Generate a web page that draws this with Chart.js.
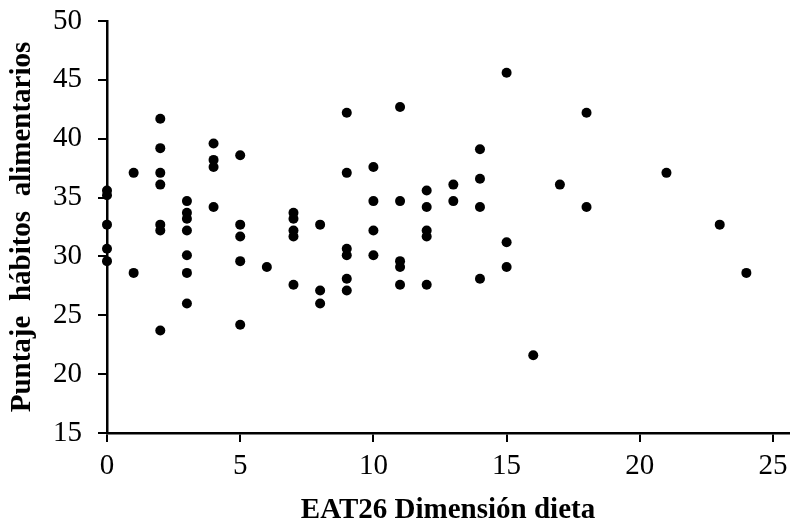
<!DOCTYPE html>
<html>
<head>
<meta charset="utf-8">
<script src="https://cdn.jsdelivr.net/npm/chart.js@4"></script>
<style>
  html, body { margin: 0; padding: 0; background: #fff; }
  #wrap { width: 794px; height: 529px; }
</style>
</head>
<body>
<div id="wrap"><canvas id="chart" width="794" height="529"></canvas></div>
<script>
// puntos (x = EAT26 dieta, y = puntaje hábitos)
const dietaX = [
    0, 0, 0, 0, 0,
    1, 1,
    2, 2, 2, 2, 2, 2, 2,
    3, 3, 3, 3, 3, 3, 3,
    4, 4, 4, 4,
    5, 5, 5, 5, 5,
    6,
    7, 7, 7, 7, 7,
    8, 8, 8,
    9, 9, 9, 9, 9, 9,
    10, 10, 10, 10,
    11, 11, 11, 11, 11,
    12, 12, 12, 12, 12,
    13, 13,
    14, 14, 14, 14,
    15, 15, 15,
    16, 17, 18, 18, 21, 23, 24
];
const habitosY = [
    35.6, 35.2, 32.7, 30.65, 29.6,
    37.1, 28.6,
    41.7, 39.2, 37.1, 36.1, 32.7, 32.2, 23.7,
    34.7, 33.7, 33.2, 32.2, 30.1, 28.6, 26.0,
    39.6, 38.2, 37.6, 34.2,
    38.6, 32.7, 31.7, 29.6, 24.2,
    29.1,
    33.7, 33.2, 32.2, 31.7, 27.6,
    32.7, 27.1, 26.0,
    42.2, 37.1, 30.65, 30.1, 28.1, 27.1,
    37.6, 34.7, 32.2, 30.1,
    42.7, 34.7, 29.6, 29.1, 27.6,
    35.6, 34.2, 32.2, 31.7, 27.6,
    36.1, 34.7,
    39.1, 36.6, 34.2, 28.1,
    45.6, 31.2, 29.1,
    21.6, 36.1, 42.2, 34.2, 37.1, 32.7, 28.6
];
const xTicks = [0, 5, 10, 15, 20, 25];
const yTicks = [15, 20, 25, 30, 35, 40, 45, 50];

const serif = "'Liberation Serif', 'Times New Roman', serif";

const puntos = dietaX.map((x, i) => ({ x: x, y: habitosY[i] }));

new Chart(document.getElementById('chart').getContext('2d'), {
    type: 'scatter',
    data: {
        datasets: [{
            data: puntos,
            backgroundColor: '#000',
            borderWidth: 0,
            pointRadius: 5,
            pointHoverRadius: 5,
            clip: false
        }]
    },
    options: {
        responsive: false,
        animation: false,
        layout: { padding: { top: 21, right: 3, left: 0, bottom: 0 } },
        plugins: { legend: { display: false }, tooltip: { enabled: false } },
        scales: {
            x: {
                type: 'linear',
                min: 0,
                max: 25.6,
                afterBuildTicks: (scale) => { scale.ticks = xTicks.map(v => ({ value: v })); },
                afterFit: (scale) => {
                    scale.height = 96;
                    scale.paddingLeft = 0;
                    scale.paddingRight = 0;
                },
                border: { color: '#000', width: 2.5 },
                grid: { drawOnChartArea: false, drawTicks: true, tickLength: 9, color: '#000', lineWidth: 2 },
                ticks: { color: '#000', font: { family: serif, size: 29 }, padding: 7, maxRotation: 0 },
                title: {
                    display: true,
                    text: 'EAT26 Dimensión dieta',
                    color: '#000',
                    font: { family: serif, size: 29, weight: 'bold' },
                    padding: { top: 0, bottom: 1 }
                }
            },
            y: {
                min: 15,
                max: 50,
                afterBuildTicks: (scale) => { scale.ticks = yTicks.map(v => ({ value: v })); },
                afterFit: (scale) => {
                    scale.width = 107;
                    scale.paddingTop = 0;
                    scale.paddingBottom = 0;
                },
                border: { color: '#000', width: 2.5 },
                grid: { drawOnChartArea: false, drawTicks: true, tickLength: 9, color: '#000', lineWidth: 2 },
                ticks: { color: '#000', font: { family: serif, size: 29 }, padding: 16 },
                title: {
                    display: true,
                    text: 'Puntaje  hábitos  alimentarios',
                    color: '#000',
                    font: { family: serif, size: 29, weight: 'bold' },
                    padding: { top: 5, bottom: 0 }
                }
            }
        }
    }
});
</script>
</body>
</html>
